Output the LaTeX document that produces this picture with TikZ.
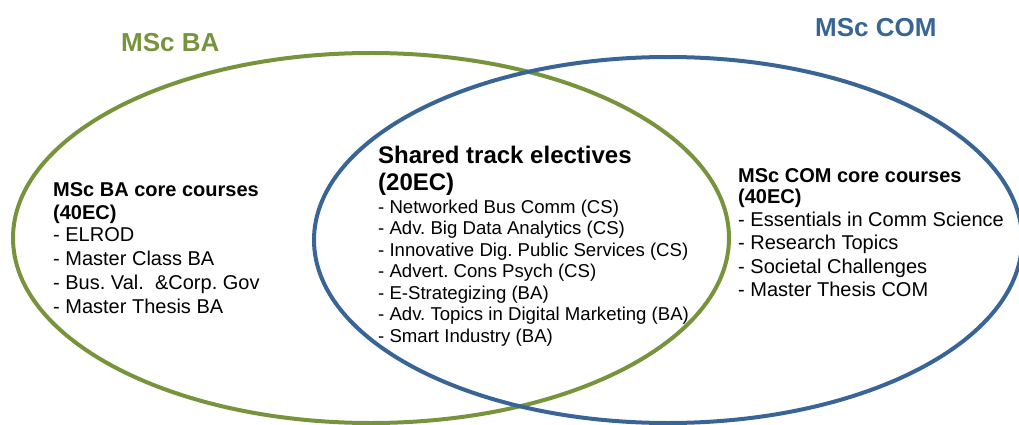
\documentclass[tikz,border=0pt]{standalone}
\usepackage{fontspec}
\setmainfont{Liberation Sans}
\frenchspacing
\definecolor{baGreen}{HTML}{77933C}
\definecolor{comBlue}{HTML}{386595}
\begin{document}
\begin{tikzpicture}[x=1pt,y=-1pt,
  ring/.style={line width=4pt},
  txt/.style={inner sep=0pt,anchor=base west,text=black},
  title/.style={inner sep=0pt,anchor=base west,font=\fontsize{26}{30}\selectfont\bfseries},
  corehead/.style={txt,font=\fontsize{20}{24}\selectfont\bfseries},
  coreitem/.style={txt,font=\fontsize{20}{24}\selectfont},
  sharedhead/.style={txt,font=\fontsize{24}{28}\selectfont\bfseries},
  shareditem/.style={txt,font=\fontsize{18.6}{22}\selectfont}]
\useasboundingbox (0,0) rectangle (1019,425);
\begin{scope}
  \clip (0,0) rectangle (1019,425);
  % the two programme sets
  \draw[ring,baGreen] (371,238) ellipse [x radius=358, y radius=185];
  \draw[ring,comBlue] (668,240) ellipse [x radius=354, y radius=183];
\end{scope}

% programme titles
\node[title,text=baGreen] (ba-title) at (121,52) {MSc BA};
\node[title,text=comBlue] (com-title) at (815,37) {MSc COM};

% MSc BA core block
\node[corehead] (ba-head1) at (53,196.5) {MSc BA core courses};
\node[corehead] (ba-head2) at (53,219) {(40EC)};
\foreach \t [count=\i] in {{- ELROD},{- Master Class BA},{- Bus. Val.\ \ \&Corp. Gov},{- Master Thesis BA}}
  \node[coreitem] (ba-item-\i) at (53,{241.5+24*(\i-1)}) {\t};

% shared electives block
\node[sharedhead] (sh-head1) at (378,163) {Shared track electives};
\node[sharedhead] (sh-head2) at (378,190) {(20EC)};
\foreach \t [count=\i] in {{- Networked Bus Comm (CS)},{- Adv. Big Data Analytics (CS)},{- Innovative Dig. Public Services (CS)},{- Advert. Cons Psych (CS)},{- E-Strategizing (BA)},{- Adv. Topics in Digital Marketing (BA)},{- Smart Industry (BA)}}
  \node[shareditem] (sh-item-\i) at (378,{213+21.5*(\i-1)}) {\t};

% MSc COM core block
\node[corehead] (com-head1) at (738,182) {MSc COM core courses};
\node[corehead] (com-head2) at (738,203.5) {(40EC)};
\foreach \t [count=\i] in {{- Essentials in Comm Science},{- Research Topics},{- Societal Challenges},{- Master Thesis COM}}
  \node[coreitem] (com-item-\i) at (738,{226.5+23.3*(\i-1)}) {\t};
\end{tikzpicture}
\end{document}
